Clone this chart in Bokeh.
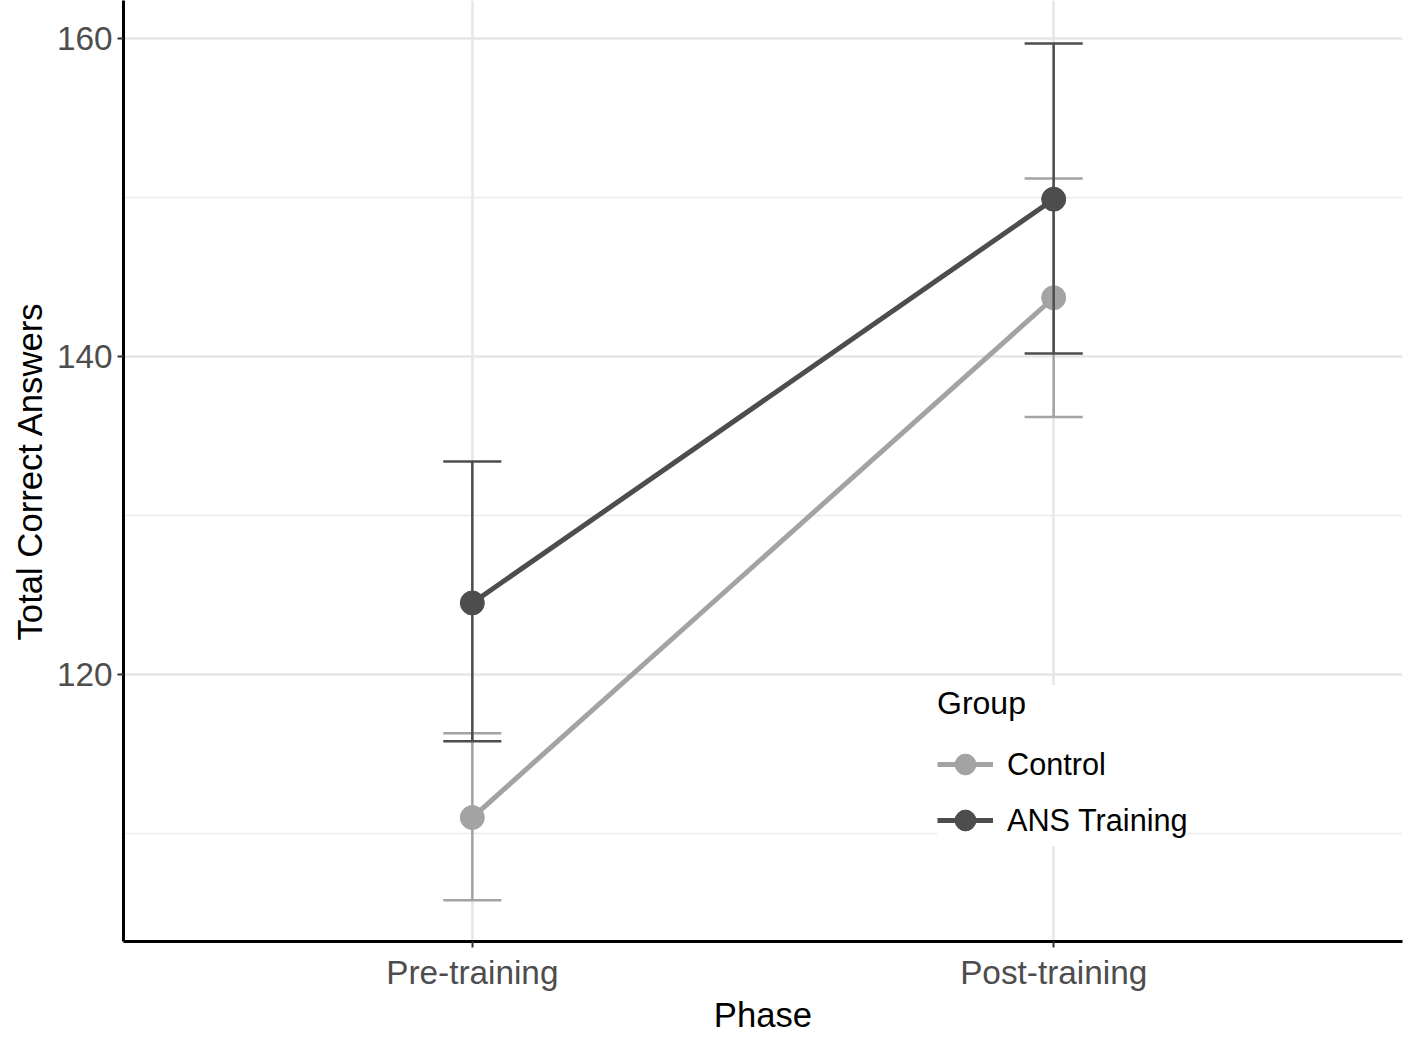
from bokeh.plotting import figure
from bokeh.models import FixedTicker, Legend, LegendItem, ColumnDataSource
from bokeh.embed import file_html
from bokeh.resources import INLINE

phases = ["Pre-training", "Post-training"]
groups = ["Control", "ANS Training"]
colors = ["#A3A3A3", "#4D4D4D"]
means = {"Control": [111.0, 143.7], "ANS Training": [124.5, 149.9]}
upper = {"Control": [116.3, 151.2], "ANS Training": [133.4, 159.7]}
lower = {"Control": [105.8, 136.2], "ANS Training": [115.8, 140.2]}

FONT = "Liberation Sans"
p = figure(width=1404, height=1036, output_backend="svg", toolbar_location=None,
           x_range=(0.4, 2.6), y_range=(103.2, 162.4),
           min_border_left=123, min_border_bottom=60, min_border_top=0, min_border_right=2)
p.outline_line_color = None
p.background_fill_color = "white"
xs = [1, 2]
items = []
for g, c in zip(groups, colors):
    src = ColumnDataSource(dict(x=xs, y=means[g], lo=lower[g], hi=upper[g],
                                xl=[x - 0.05 for x in xs], xr=[x + 0.05 for x in xs]))
    p.segment("x", "lo", "x", "hi", source=src, line_color=c, line_width=2.5)
    p.segment("xl", "hi", "xr", "hi", source=src, line_color=c, line_width=2.5)
    p.segment("xl", "lo", "xr", "lo", source=src, line_color=c, line_width=2.5)
    l = p.line("x", "y", source=src, line_color=c, line_width=5)
    s = p.scatter("x", "y", source=src, size=24, fill_color=c, line_color=c)
    items.append(LegendItem(label=g, renderers=[l, s]))

p.xaxis.ticker = FixedTicker(ticks=xs)
p.xaxis.major_label_overrides = {1: phases[0], 2: phases[1]}
p.yaxis.ticker = FixedTicker(ticks=[120, 140, 160], minor_ticks=[110, 130, 150])
p.xgrid.ticker = FixedTicker(ticks=xs)
for ax in (p.xaxis, p.yaxis):
    ax.axis_line_width = 3
    ax.axis_line_color = "black"
    ax.major_tick_line_color = "#333333"
    ax.major_tick_line_width = 2
    ax.major_tick_out = 6
    ax.major_tick_in = 0
    ax.minor_tick_line_color = None
    ax.major_label_text_font = FONT
    ax.major_label_text_font_size = "25pt"
    ax.major_label_text_color = "#4D4D4D"
    ax.axis_label_text_font = FONT
    ax.axis_label_text_font_size = "26pt"
    ax.axis_label_text_font_style = "normal"
    ax.axis_label_text_color = "black"
p.xaxis.major_label_standoff = 6
p.xaxis.axis_label_standoff = 2
p.xaxis.axis_label = "Phase"
p.yaxis.axis_label = "Total Correct Answers"
p.grid.grid_line_color = "#E6E6E6"
p.grid.grid_line_width = 2.5
p.ygrid.minor_grid_line_color = "#EBEBEB"
p.ygrid.minor_grid_line_width = 1.5

leg = Legend(items=items, location=(814, 95), title="Group",
             title_text_font=FONT, title_text_font_size="24pt",
             title_text_font_style="normal", title_text_color="black",
             label_text_font=FONT, label_text_font_size="23pt", label_text_color="black",
             glyph_width=56, glyph_height=52, label_height=52, label_standoff=14,
             spacing=4, padding=16, background_fill_color="white",
             background_fill_alpha=1.0, border_line_color=None, title_standoff=16)
p.add_layout(leg)

open("out.html", "w").write(file_html(p, INLINE))
